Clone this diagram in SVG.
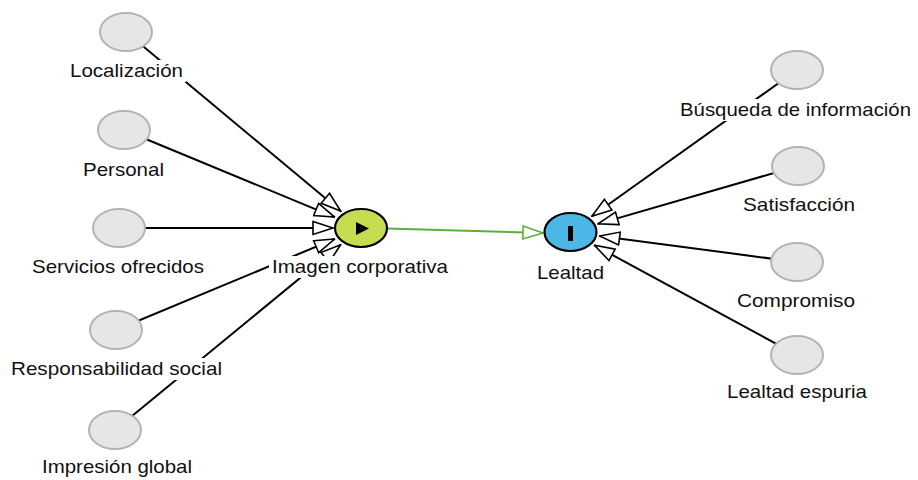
<svg xmlns="http://www.w3.org/2000/svg" width="918" height="480" viewBox="0 0 918 480">
  <style>
    .ind { fill: #e6e6e6; stroke: #b3b3b3; stroke-width: 2; }
    .lbl { font-family: "Liberation Sans", Arial, sans-serif; font-size: 19px; fill: #111111; text-anchor: middle; }
    .bg { fill: #ffffff; }
    .edge { stroke: #000000; stroke-width: 2; fill: none; marker-end: url(#open); }
    .path { stroke: #5ab03a; stroke-width: 2; fill: none; marker-end: url(#openGreen); }
  </style>
  <defs>
    <!-- open (hollow) arrowheads for the structural and measurement links -->
    <marker id="open" viewBox="0 0 22 16" refX="21" refY="8" markerWidth="22" markerHeight="16" markerUnits="userSpaceOnUse" orient="auto">
      <path d="M1,1.5 L21,8 L1,14.5 Z" fill="#ffffff" stroke="#000000" stroke-width="1.6"/>
    </marker>
    <marker id="openGreen" viewBox="0 0 22 16" refX="21" refY="8" markerWidth="22" markerHeight="16" markerUnits="userSpaceOnUse" orient="auto">
      <path d="M1,1.5 L21,8 L1,14.5 Z" fill="#ffffff" stroke="#5ab03a" stroke-width="1.6"/>
    </marker>
  </defs>
  <rect width="918" height="480" fill="#ffffff"/>

  <g id="connectors">
    <line class="edge" x1="126" y1="32" x2="340.7" y2="211.1"/>
    <line class="edge" x1="124" y1="130" x2="334.6" y2="217.1"/>
    <line class="edge" x1="119" y1="228" x2="333" y2="228"/>
    <line class="edge" x1="116" y1="330" x2="334.6" y2="239"/>
    <line class="edge" x1="115" y1="430" x2="340.5" y2="244.8"/>
    <line class="edge" x1="797" y1="70" x2="591.9" y2="216.3"/>
    <line class="edge" x1="798" y1="166" x2="598.1" y2="223.9"/>
    <line class="edge" x1="797" y1="262" x2="599.6" y2="235.9"/>
    <line class="edge" x1="797" y1="355" x2="594.5" y2="245.3"/>
    <line class="path" x1="387" y1="228.5" x2="543" y2="233"/>
  </g>

  <g id="localizacion">
    <ellipse class="ind" cx="126" cy="32" rx="26" ry="19"/>
    <rect class="bg" x="67" y="60" width="119" height="22"/>
    <text class="lbl" x="126.5" y="77" textLength="113" lengthAdjust="spacingAndGlyphs">Localización</text>
  </g>
  <g id="personal">
    <ellipse class="ind" cx="124" cy="130" rx="26" ry="19"/>
    <rect class="bg" x="80" y="159" width="87" height="22"/>
    <text class="lbl" x="123.5" y="176" textLength="81" lengthAdjust="spacingAndGlyphs">Personal</text>
  </g>
  <g id="servicios">
    <ellipse class="ind" cx="119" cy="228" rx="26" ry="19"/>
    <rect class="bg" x="29" y="256" width="178" height="22"/>
    <text class="lbl" x="118" y="273" textLength="172" lengthAdjust="spacingAndGlyphs">Servicios ofrecidos</text>
  </g>
  <g id="responsabilidad">
    <ellipse class="ind" cx="116" cy="330" rx="26" ry="19"/>
    <rect class="bg" x="8" y="358" width="217" height="22"/>
    <text class="lbl" x="116.5" y="375" textLength="211" lengthAdjust="spacingAndGlyphs">Responsabilidad social</text>
  </g>
  <g id="impresion">
    <ellipse class="ind" cx="115" cy="430" rx="26" ry="19"/>
    <rect class="bg" x="39" y="456" width="156" height="22"/>
    <text class="lbl" x="117" y="473" textLength="150" lengthAdjust="spacingAndGlyphs">Impresión global</text>
  </g>

  <g id="imagen">
    <ellipse cx="361" cy="228" rx="26" ry="19" fill="#c8dc52" stroke="#000000" stroke-width="2.2"/>
    <path d="M356,222 L369,228.5 L356,235 Z" fill="#000000"/>
    <rect class="bg" x="269" y="256" width="182" height="22"/>
    <text class="lbl" x="360" y="273" textLength="176" lengthAdjust="spacingAndGlyphs">Imagen corporativa</text>
  </g>
  <g id="lealtad">
    <ellipse cx="570.5" cy="232" rx="26" ry="19" fill="#4cb6e6" stroke="#000000" stroke-width="2.2"/>
    <rect x="568" y="226" width="5" height="15" fill="#000000"/>
    <rect class="bg" x="534" y="262" width="73" height="22"/>
    <text class="lbl" x="570.5" y="279" textLength="67" lengthAdjust="spacingAndGlyphs">Lealtad</text>
  </g>

  <g id="busqueda">
    <ellipse class="ind" cx="797" cy="70" rx="26" ry="19"/>
    <rect class="bg" x="677" y="99" width="237" height="22"/>
    <text class="lbl" x="795.5" y="116" textLength="231" lengthAdjust="spacingAndGlyphs">Búsqueda de información</text>
  </g>
  <g id="satisfaccion">
    <ellipse class="ind" cx="798" cy="166" rx="26" ry="19"/>
    <rect class="bg" x="740" y="194" width="118" height="22"/>
    <text class="lbl" x="799" y="211" textLength="112" lengthAdjust="spacingAndGlyphs">Satisfacción</text>
  </g>
  <g id="compromiso">
    <ellipse class="ind" cx="797" cy="262" rx="26" ry="19"/>
    <rect class="bg" x="734" y="290" width="124" height="22"/>
    <text class="lbl" x="796" y="307" textLength="118" lengthAdjust="spacingAndGlyphs">Compromiso</text>
  </g>
  <g id="espuria">
    <ellipse class="ind" cx="797" cy="355" rx="26" ry="19"/>
    <rect class="bg" x="724" y="381" width="146" height="22"/>
    <text class="lbl" x="797" y="398" textLength="140" lengthAdjust="spacingAndGlyphs">Lealtad espuria</text>
  </g>
</svg>
